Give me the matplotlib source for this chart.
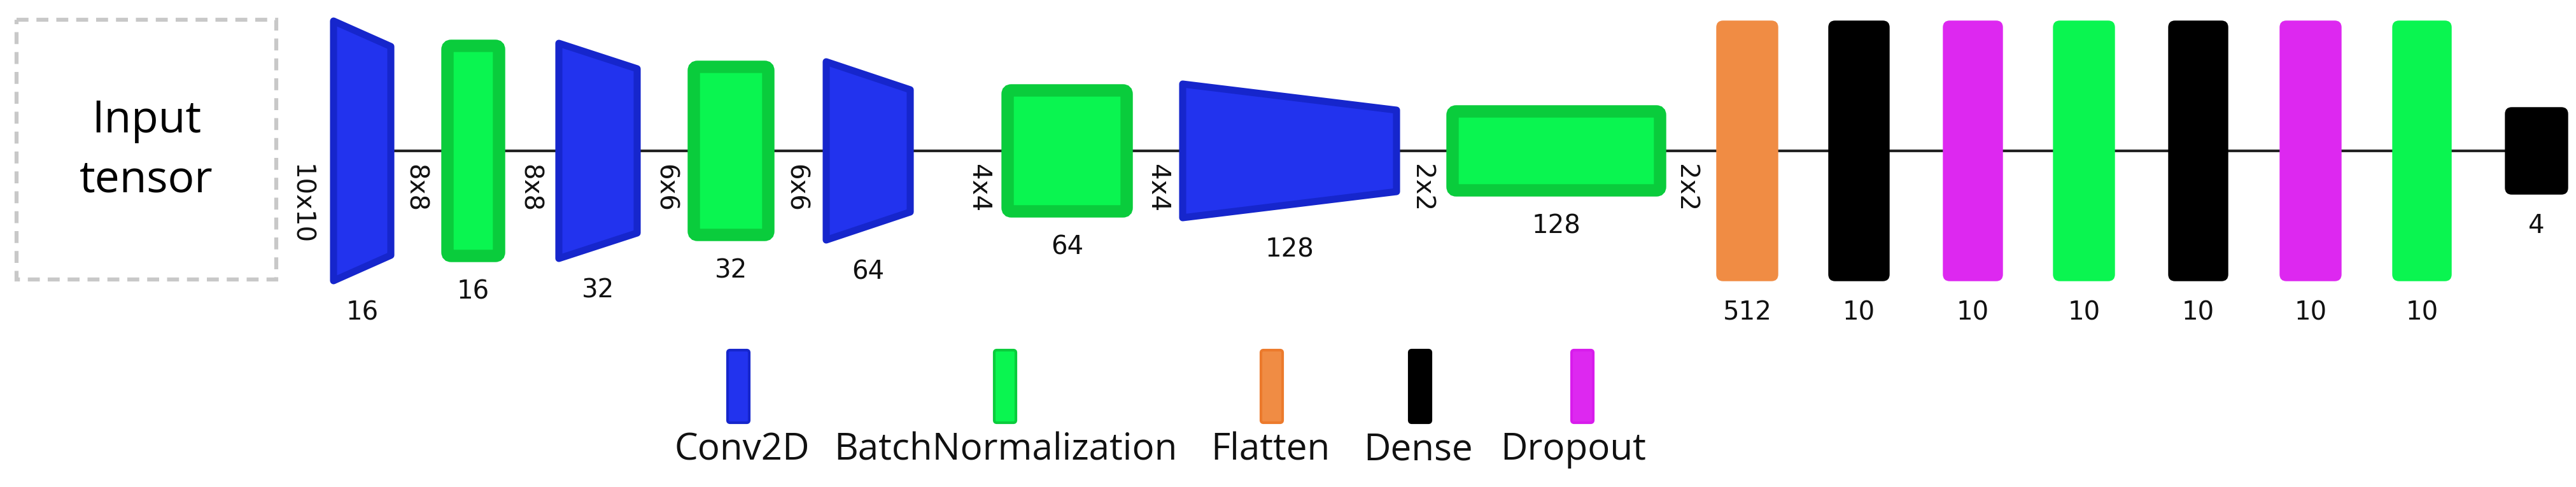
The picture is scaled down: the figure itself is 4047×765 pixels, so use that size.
import matplotlib
matplotlib.use("Agg")
import matplotlib.pyplot as plt
from matplotlib.patches import Polygon, FancyBboxPatch, Rectangle

# ---- data ----
layer_types = ["Conv2D", "BatchNormalization", "Conv2D", "BatchNormalization", "Conv2D",
               "BatchNormalization", "Conv2D", "BatchNormalization", "Flatten", "Dense",
               "Dropout", "BatchNormalization", "Dense", "Dropout", "BatchNormalization", "Dense"]
layer_labels = ["16", "16", "32", "32", "64", "64", "128", "128", "512",
                "10", "10", "10", "10", "10", "10", "4"]
# geometry (pixels): x-left, x-right, half-height left, half-height right
x_left = [524, 697, 878, 1084, 1298, 1577, 1858, 2276, 2697, 2873, 3053, 3226, 3407, 3582, 3759, 3936]
x_right = [614, 790, 1001, 1213, 1430, 1776, 2194, 2614, 2793, 2968, 3146, 3322, 3500, 3678, 3851, 4034]
h_left = [204, 171, 169, 138, 140, 101, 105, 68, 204, 204, 204, 204, 204, 204, 204, 68]
h_right = [164, 171, 129, 138, 96, 101, 64, 68, 204, 204, 204, 204, 204, 204, 204, 68]
dim_labels = ["10x10", "8x8", "8x8", "6x6", "6x6", "4x4", "4x4", "2x2", "2x2"]
dim_x = [472, 652, 832, 1045, 1250, 1537, 1818, 2233, 2648]
legend_names = ["Conv2D", "BatchNormalization", "Flatten", "Dense", "Dropout"]
legend_box_x = [1160, 1579, 1998, 2231, 2486]
legend_text_x = [1166, 1580, 1996, 2228, 2472]

colors = {"Conv2D": ("#2233EE", "#1626CC"), "BatchNormalization": ("#0AF550", "#0ACC3C"),
          "Flatten": ("#F08C44", "#EC7A2C"), "Dense": ("#000000", "#000000"),
          "Dropout": ("#DD28F0", "#D81CEC")}

W, H = 4047, 765
fig = plt.figure(figsize=(W / 100, H / 100), dpi=100)
ax = fig.add_axes([0, 0, 1, 1])
ax.set_xlim(0, W)
ax.set_ylim(H, 0)
ax.axis("off")
cy = 237
font = ["Open Sans", "DejaVu Sans"]
numfont = ["DejaVu Sans"]

# input box
ax.add_patch(Rectangle((26, 31), 408, 408, fill=False, ec="#C8C8C8", lw=4.5, ls=(0, (3, 2))))
ax.text(230, 237, "Input\ntensor", ha="center", va="center", fontsize=50,
        family=font, linespacing=1.45)

# connecting line
ax.plot([x_right[0], x_left[-1]], [cy, cy], color="#222222", lw=3, zorder=0)

for t, lab, xl, xr, hl, hr in zip(layer_types, layer_labels, x_left, x_right, h_left, h_right):
    fc, ec = colors[t]
    if t == "Conv2D":
        poly = Polygon([(xl, cy - hl), (xr, cy - hr), (xr, cy + hr), (xl, cy + hl)],
                       closed=True, fc=fc, ec=ec, lw=8, joinstyle="round", zorder=2)
        ax.add_patch(poly)
    elif t == "BatchNormalization" and hl < 200:
        ax.add_patch(FancyBboxPatch((xl + 6, cy - hl + 6), xr - xl - 12, 2 * hl - 12,
                                    boxstyle="round,pad=0,rounding_size=6",
                                    fc=fc, ec=ec, lw=14, zorder=2))
    else:
        ax.add_patch(FancyBboxPatch((xl + 6, cy - hl + 6), xr - xl - 12, 2 * hl - 12,
                                    boxstyle="round,pad=6,rounding_size=10",
                                    fc=fc, ec=fc, lw=1, zorder=2))
    ax.text((xl + xr) / 2, cy + max(hl, hr) + 50, lab, ha="center", va="center",
            fontsize=29, family=numfont, color="#111111")

for lab, x in zip(dim_labels, dim_x):
    ax.text(x, 258, lab, rotation=-90, ha="center", va="top", fontsize=29,
            family=numfont, color="#111111")

for name, bx, tx in zip(legend_names, legend_box_x, legend_text_x):
    fc, ec = colors[name]
    ax.add_patch(FancyBboxPatch((bx - 15, 552), 30, 110,
                                boxstyle="round,pad=2,rounding_size=4",
                                fc=fc, ec=ec, lw=3))
    ax.text(tx, 707, name, ha="center", va="center", fontsize=42, family=font,
            color="#111111")

fig.savefig("out.png", dpi=100)
